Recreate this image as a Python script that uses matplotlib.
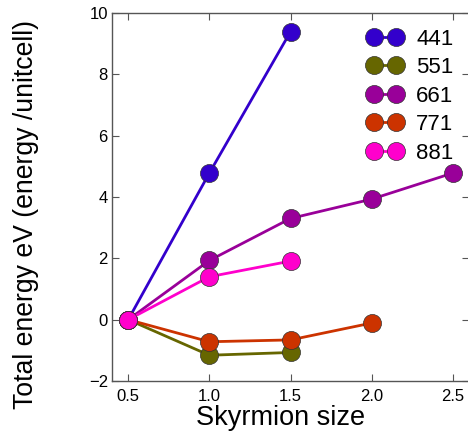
import numpy as np
import matplotlib
matplotlib.use("Agg")
import matplotlib.pyplot as plt

plt.rcParams['font.family'] = ['Liberation Sans', 'DejaVu Sans']

# skyrmion sizes and relative total energies for each lattice
sizes = [0.5, 1.0, 1.5, 2.0, 2.5]
labels = ['441', '551', '661', '771', '881']
e441 = [0.0, 4.78, 9.39]
e551 = [0.0, -1.16, -1.07]
e661 = [0.0, 1.93, 3.30, 3.93, 4.78]
e771 = [0.0, -0.72, -0.66, -0.11]
e881 = [0.0, 1.40, 1.91]
colors = ['#3300cc', '#666600', '#990099', '#cc3300', '#ff00cc']

series = [e441, e551, e661, e771, e881]

fig = plt.figure(figsize=(4.68, 4.33), dpi=100)
ax = fig.add_axes([112 / 468, 1 - 381 / 433, 357 / 468, 368 / 433])

for lab, vals, col in zip(labels, series, colors):
    ax.plot(sizes[:len(vals)], vals, '-o', color=col, lw=2, ms=13,
            markeredgecolor='#333333', markeredgewidth=0.5, label=lab)

ax.set_xlim(0.4, 2.6)
ax.set_ylim(-2, 10)
ax.set_xticks([0.5, 1.0, 1.5, 2.0, 2.5])
ax.set_yticks([-2, 0, 2, 4, 6, 8, 10])
ax.tick_params(direction='in', top=True, right=True, length=5, width=0.8,
               labelsize=12, color='#555555')
ax.tick_params(axis='x', pad=6)
ax.tick_params(axis='y', pad=3)
for sp in ax.spines.values():
    sp.set_color('#555555')
    sp.set_linewidth(1.0)

ax.set_xlabel('Skyrmion size', fontsize=19.5)
ax.set_ylabel('Total energy eV (energy /unitcell)', fontsize=19.2)
ax.xaxis.set_label_coords(0.473, -0.065)
ax.yaxis.set_label_coords(-0.205, 0.452)

ax.legend(loc='upper right', frameon=False, numpoints=2, fontsize=16,
          handlelength=1.6, handletextpad=0.6, labelspacing=0.34,
          borderaxespad=0.3)

fig.savefig('out.png', dpi=100)
